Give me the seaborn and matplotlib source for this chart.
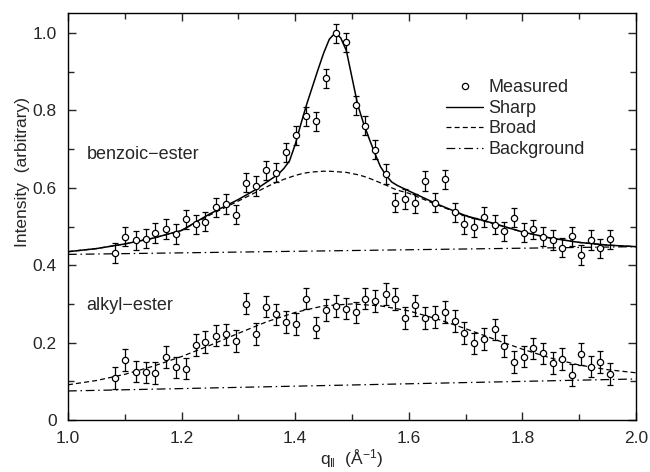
"""
Surface scattering profile: benzoic-ester vs alkyl-ester.
Measured points with error bars plus sharp / broad / background fit components.
"""

import matplotlib
matplotlib.use("Agg")
import matplotlib.pyplot as plt
from matplotlib.lines import Line2D
from matplotlib.ticker import MultipleLocator
import seaborn as sns

# measured data (shared q grid)
q_meas = [1.083, 1.100, 1.119, 1.137, 1.154, 1.172, 1.190, 1.207, 1.225, 1.242,
          1.260, 1.278, 1.295, 1.313, 1.331, 1.349, 1.366, 1.384, 1.401, 1.419,
          1.437, 1.454, 1.472, 1.489, 1.507, 1.523, 1.541, 1.559, 1.576, 1.593,
          1.611, 1.629, 1.646, 1.664, 1.681, 1.698, 1.715, 1.733, 1.751, 1.767,
          1.785, 1.802, 1.819, 1.836, 1.853, 1.870, 1.887, 1.904, 1.921, 1.937,
          1.955]
benzoic_I = [0.432, 0.474, 0.464, 0.469, 0.483, 0.494, 0.481, 0.519, 0.506, 0.513,
             0.550, 0.558, 0.531, 0.613, 0.605, 0.645, 0.639, 0.692, 0.736, 0.785,
             0.772, 0.883, 0.999, 0.976, 0.813, 0.761, 0.699, 0.636, 0.562, 0.571,
             0.560, 0.618, 0.562, 0.622, 0.537, 0.506, 0.498, 0.525, 0.505, 0.488,
             0.523, 0.484, 0.493, 0.474, 0.465, 0.445, 0.475, 0.426, 0.465, 0.444,
             0.467]
alkyl_I = [0.108, 0.155, 0.125, 0.123, 0.121, 0.162, 0.136, 0.133, 0.194, 0.201,
           0.218, 0.221, 0.205, 0.301, 0.222, 0.293, 0.273, 0.253, 0.248, 0.314,
           0.239, 0.284, 0.295, 0.288, 0.278, 0.314, 0.307, 0.326, 0.313, 0.264,
           0.296, 0.264, 0.267, 0.279, 0.256, 0.224, 0.198, 0.209, 0.234, 0.191,
           0.150, 0.164, 0.185, 0.172, 0.148, 0.157, 0.117, 0.170, 0.138, 0.150,
           0.119]
benzoic_err = 0.025
alkyl_err = 0.028

# fit curves
q_fit_b = [1.00, 1.05, 1.10, 1.15, 1.20, 1.25, 1.30, 1.33, 1.36, 1.37, 1.38, 1.39,
           1.40, 1.41, 1.42, 1.43, 1.44, 1.45, 1.46, 1.47, 1.48, 1.49, 1.50, 1.51,
           1.52, 1.53, 1.54, 1.55, 1.56, 1.57, 1.58, 1.60, 1.65, 1.70, 1.75, 1.80,
           1.85, 1.90, 1.95, 2.00]
sharp_b = [0.435, 0.443, 0.455, 0.470, 0.490, 0.533, 0.570, 0.595, 0.625, 0.635,
           0.650, 0.670, 0.712, 0.765, 0.815, 0.860, 0.905, 0.948, 0.984, 1.000,
           0.988, 0.955, 0.885, 0.815, 0.768, 0.728, 0.690, 0.655, 0.632, 0.615,
           0.606, 0.592, 0.558, 0.528, 0.508, 0.486, 0.470, 0.459, 0.452, 0.448]
broad_b = [0.435, 0.443, 0.455, 0.470, 0.490, 0.530, 0.566, 0.588, 0.610, 0.616,
           0.622, 0.627, 0.632, 0.636, 0.639, 0.641, 0.642, 0.643, 0.643, 0.642,
           0.641, 0.640, 0.637, 0.634, 0.630, 0.625, 0.619, 0.613, 0.607, 0.600,
           0.594, 0.586, 0.556, 0.527, 0.507, 0.486, 0.470, 0.459, 0.452, 0.448]
q_fit_a = [1.00, 1.05, 1.10, 1.15, 1.20, 1.25, 1.30, 1.35, 1.40, 1.45, 1.50,
           1.55, 1.60, 1.65, 1.70, 1.75, 1.80, 1.85, 1.90, 1.95, 2.00]
broad_a = [0.091, 0.102, 0.118, 0.139, 0.164, 0.193, 0.224, 0.254, 0.278, 0.295,
           0.300, 0.295, 0.282, 0.261, 0.236, 0.209, 0.183, 0.160, 0.142, 0.130,
           0.122]
q_bg = [1.0, 2.0]
bg_b = [0.428, 0.448]
bg_a = [0.075, 0.106]

sns.set_style("ticks")
plt.rcParams["font.family"] = ["Liberation Sans", "DejaVu Sans"]
plt.rcParams["mathtext.default"] = "regular"

fig = plt.figure(figsize=(6.5, 4.72), dpi=100)
ax = fig.add_axes([0.1046, 0.1102, 0.8739, 0.8623])

dashed = (0, (4, 2.5))
dashdot = (0, (7, 3, 1.2, 3))

# background and broad components first, total (sharp) on top
for bg in (bg_b, bg_a):
    sns.lineplot(x=q_bg, y=bg, ax=ax, color="black", linewidth=0.9,
                 linestyle=dashdot, estimator=None, sort=False)
sns.lineplot(x=q_fit_b, y=broad_b, ax=ax, color="black", linewidth=0.9,
             linestyle=dashed, estimator=None, sort=False)
sns.lineplot(x=q_fit_a, y=broad_a, ax=ax, color="black", linewidth=0.9,
             linestyle=dashed, estimator=None, sort=False)
sns.lineplot(x=q_fit_b, y=sharp_b, ax=ax, color="black", linewidth=1.1,
             estimator=None, sort=False)

for vals, err in ((benzoic_I, benzoic_err), (alkyl_I, alkyl_err)):
    ax.errorbar(q_meas, vals, yerr=err, fmt="o", ms=4.5, mfc="white", mec="black",
                mew=0.9, ecolor="black", elinewidth=0.9, capsize=2.5, capthick=0.9,
                zorder=3)

ax.set_xlim(1.0, 2.0)
ax.set_ylim(0, 1.052)
ax.set_xticks([1.0, 1.2, 1.4, 1.6, 1.8, 2.0])
ax.set_xticklabels(["1.0", "1.2", "1.4", "1.6", "1.8", "2.0"])
ax.set_yticks([0, 0.2, 0.4, 0.6, 0.8, 1.0])
ax.set_yticklabels(["0", "0.2", "0.4", "0.6", "0.8", "1.0"])
ax.xaxis.set_minor_locator(MultipleLocator(0.1))
ax.yaxis.set_minor_locator(MultipleLocator(0.1))
ax.tick_params(which="both", direction="in", top=True, right=True, width=1.0,
               labelsize=12.5, pad=8)
ax.tick_params(which="major", length=6)
ax.tick_params(which="minor", length=4)
for sp in ax.spines.values():
    sp.set_linewidth(1.0)
    sp.set_color("black")

ax.set_xlabel(r"q$_{\Vert}$  (Å$^{-1}$)", fontsize=12.5, labelpad=1)
ax.set_ylabel("Intensity  (arbitrary)", fontsize=12.5)
ax.yaxis.set_label_coords(-0.066, 0.61)

ax.text(1.033, 0.685, "benzoic\u2212ester", fontsize=13, va="center", ha="left")
ax.text(1.032, 0.295, "alkyl\u2212ester", fontsize=13, va="center", ha="left")

handles = [
    Line2D([], [], marker="o", ls="none", ms=4.5, mfc="white", mec="black", mew=0.9),
    Line2D([], [], color="black", lw=1.0),
    Line2D([], [], color="black", lw=0.9, ls=dashed),
    Line2D([], [], color="black", lw=0.9, ls=dashdot),
]
ax.legend(handles, ["Measured", "Sharp", "Broad", "Background"], loc="upper left",
          bbox_to_anchor=(0.652, 0.855), frameon=False, fontsize=13,
          handlelength=2.1, handletextpad=0.25, labelspacing=0.2,
          borderaxespad=0)

fig.savefig("out.png", dpi=100)
